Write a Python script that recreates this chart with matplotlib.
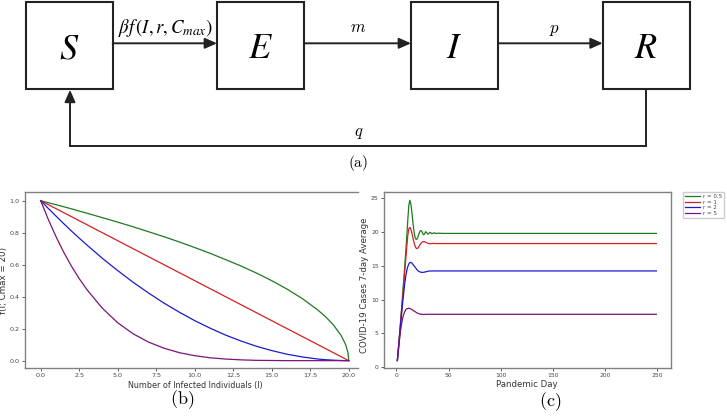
import matplotlib
matplotlib.use("Agg")
import matplotlib.pyplot as plt
from matplotlib.patches import Rectangle

# ---- panel (b): f(I; Cmax = 20) ----
infected = [0, 0.5, 1, 1.5, 2, 2.5, 3, 4, 5, 6, 7, 8, 9, 10, 11, 12, 13, 14,
            15, 16, 17, 18, 18.5, 19, 19.5, 19.8, 19.95, 20]
f_r05 = [1.0, 0.987, 0.975, 0.962, 0.949, 0.935, 0.922, 0.894, 0.866, 0.837,
         0.806, 0.775, 0.742, 0.707, 0.671, 0.632, 0.592, 0.548, 0.5, 0.447,
         0.387, 0.316, 0.274, 0.224, 0.158, 0.1, 0.05, 0.0]
f_r1 = [1.0, 0.975, 0.95, 0.925, 0.9, 0.875, 0.85, 0.8, 0.75, 0.7, 0.65, 0.6,
        0.55, 0.5, 0.45, 0.4, 0.35, 0.3, 0.25, 0.2, 0.15, 0.1, 0.075, 0.05,
        0.025, 0.01, 0.0025, 0.0]
f_r2 = [1.0, 0.951, 0.903, 0.856, 0.81, 0.766, 0.723, 0.64, 0.563, 0.49,
        0.423, 0.36, 0.303, 0.25, 0.203, 0.16, 0.123, 0.09, 0.063, 0.04,
        0.023, 0.01, 0.006, 0.003, 0.001, 0.0, 0.0, 0.0]
f_r5 = [1.0, 0.881, 0.774, 0.677, 0.59, 0.513, 0.444, 0.328, 0.237, 0.168,
        0.116, 0.078, 0.05, 0.031, 0.018, 0.01, 0.005, 0.002, 0.001, 0.0,
        0.0, 0.0, 0.0, 0.0, 0.0, 0.0, 0.0, 0.0]

# ---- panel (c): 7-day average cases ----
days = [1, 2, 3, 4, 5, 6, 7, 8, 9, 10, 11, 12, 13, 14, 15, 16, 17, 18, 19, 20,
        21, 22, 23, 24, 25, 26, 27, 28, 29, 30, 31, 32, 33, 34, 35, 36, 37, 38,
        39, 40, 45, 50, 75, 100, 150, 200, 249]
cases_r05 = [1.0, 2.8, 4.7, 6.6, 8.6, 10.6, 12.7, 14.8, 17.0, 19.3,
             21.8, 24.0, 24.7, 24.1, 22.8, 21.3, 20.0, 19.2, 18.9, 19.0,
             19.4, 19.9, 20.2, 20.2, 19.9, 19.6, 19.7, 20.05, 19.95, 19.7,
             19.75, 19.95, 19.9, 19.75, 19.8, 19.9, 19.85, 19.78, 19.82, 19.83,
             19.8, 19.8, 19.8, 19.8, 19.8, 19.8, 19.8]
cases_r1 = [1.0, 2.8, 4.6, 6.4, 8.3, 10.2, 12.1, 14.0, 15.9, 17.8,
            19.5, 20.5, 20.7, 20.4, 19.8, 19.1, 18.4, 17.9, 17.6, 17.55,
            17.7, 17.95, 18.2, 18.4, 18.55, 18.6, 18.58, 18.5, 18.42, 18.35,
            18.3, 18.28, 18.28, 18.3, 18.32, 18.32, 18.3, 18.3, 18.3, 18.3,
            18.3, 18.3, 18.3, 18.3, 18.3, 18.3, 18.3]
cases_r2 = [1.0, 2.7, 4.4, 6.1, 7.8, 9.4, 10.9, 12.3, 13.4, 14.3,
            14.9, 15.3, 15.5, 15.5, 15.4, 15.2, 15.0, 14.8, 14.6, 14.4,
            14.25, 14.15, 14.08, 14.05, 14.04, 14.05, 14.08, 14.12, 14.16, 14.2,
            14.22, 14.24, 14.25, 14.25, 14.25, 14.25, 14.25, 14.25, 14.25, 14.25,
            14.25, 14.25, 14.25, 14.25, 14.25, 14.25, 14.25]
cases_r5 = [1.0, 2.5, 4.0, 5.3, 6.4, 7.2, 7.8, 8.2, 8.5, 8.65,
            8.7, 8.72, 8.7, 8.62, 8.52, 8.42, 8.32, 8.22, 8.12, 8.03,
            7.96, 7.9, 7.86, 7.84, 7.83, 7.82, 7.82, 7.83, 7.84, 7.84,
            7.84, 7.84, 7.84, 7.84, 7.84, 7.84, 7.84, 7.84, 7.84, 7.84,
            7.84, 7.84, 7.84, 7.84, 7.84, 7.84, 7.84]

r_labels = ["r = 0.5", "r = 1", "r = 2", "r = 5"]
colors = ["#1f7a1f", "#d42020", "#1a1ad0", "#7a147a"]

W, H = 727, 417
fig = plt.figure(figsize=(W / 100, H / 100), dpi=100)

# ---- (a) compartment diagram, drawn in pixel coordinates ----
ax0 = fig.add_axes([0, 0, 1, 1])
ax0.set_xlim(0, W)
ax0.set_ylim(H, 0)
ax0.axis("off")

box_names = ["S", "E", "I", "R"]
box_left = [25.7, 217, 411, 602.7]
box_w, box_top, box_h = 87, 2.3, 87
ink = "#222222"
for name, x0 in zip(box_names, box_left):
    ax0.add_patch(Rectangle((x0, box_top), box_w, box_h, fill=False,
                            lw=1.5, ec=ink))
    ax0.text(x0 + box_w / 2, 48, "$%s$" % name, fontsize=26, ha="center",
             va="center", math_fontfamily="stix", color="black")

arrow_y = 43.3
head = dict(arrowstyle="-|>,head_length=0.9,head_width=0.4", lw=1.4,
            color=ink, shrinkA=0, shrinkB=0, mutation_scale=8)
for i in range(3):
    ax0.annotate("", xy=(box_left[i + 1], arrow_y),
                 xytext=(box_left[i] + box_w, arrow_y), arrowprops=head)

ax0.text(166, 28, r"$\beta f\,(I,r,C_{max})$", fontsize=13.5, ha="center",
         va="center", math_fontfamily="stix")
ax0.text(358, 27, "$m$", fontsize=12, ha="center", va="center",
         math_fontfamily="cm")
ax0.text(554, 29, "$p$", fontsize=12, ha="center", va="center",
         math_fontfamily="cm")
ax0.text(359, 132, "$q$", fontsize=12, ha="center", va="center",
         math_fontfamily="cm")

# feedback R -> S
ax0.plot([645.7, 645.7, 70], [box_top + box_h, 145.7, 145.7], color=ink,
         lw=1.4, solid_joinstyle="miter")
ax0.annotate("", xy=(70, box_top + box_h + 0.5), xytext=(70, 145.7),
             arrowprops=head)

ax0.text(358, 163, r"$\mathrm{(a)}$", fontsize=11, ha="center", va="center",
         math_fontfamily="cm")
ax0.text(182, 400, r"$\mathrm{(b)}$", fontsize=13, ha="center", va="center",
         math_fontfamily="cm")
ax0.text(550, 402, r"$\mathrm{(c)}$", fontsize=13, ha="center", va="center",
         math_fontfamily="cm")

spine_col = "#808080"
tick_col = "#444444"


def style(ax, fs):
    for s in ax.spines.values():
        s.set_color(spine_col)
        s.set_linewidth(1.0)
    ax.tick_params(labelsize=fs, colors=tick_col, length=2.5, width=0.6,
                   pad=1.5)


# ---- (b) ----
axb = fig.add_axes([25 / W, 1 - 367.7 / H, 333 / W, 175.4 / H])
for vals, c in zip([f_r05, f_r1, f_r2, f_r5], colors):
    axb.plot(infected, vals, color=c, lw=0.9)
axb.set_xlim(-1.02, 20.6)
axb.set_ylim(-0.044, 1.0525)
axb.spines["right"].set_visible(False)
style(axb, 4.6)
axb.set_xticks([0, 2.5, 5, 7.5, 10, 12.5, 15, 17.5, 20])
axb.set_xlabel("Number of Infected Individuals (I)", fontsize=5.8, color="#333333")
axb.set_ylabel("f(I; Cmax = 20)", fontsize=6.3, color="#333333")
axb.xaxis.set_label_coords(195 / W, 1 - 381 / H, transform=fig.transFigure)
axb.yaxis.set_label_coords(8.5 / W, 1 - 280 / H, transform=fig.transFigure)

# ---- (c) ----
axc = fig.add_axes([384.3 / W, 1 - 367.7 / H, 286.7 / W, 176 / H])
for vals, c, lab in zip([cases_r05, cases_r1, cases_r2, cases_r5], colors,
                        r_labels):
    axc.plot(days, vals, color=c, lw=0.9, label=lab)
axc.set_xlim(-11.5, 263)
axc.set_ylim(-0.06, 25.97)
style(axc, 4.3)
axc.set_xlabel("Pandemic Day", fontsize=6.2, color="#333333")
axc.set_ylabel("COVID-19 Cases 7-day Average", fontsize=6.2, color="#333333")
axc.xaxis.set_label_coords(527 / W, 1 - 380 / H, transform=fig.transFigure)
axc.yaxis.set_label_coords(369 / W, 1 - 285 / H, transform=fig.transFigure)

leg = axc.legend(loc="upper left", bbox_to_anchor=(683 / W, 1 - 191.5 / H),
                 bbox_transform=fig.transFigure, fontsize=4, handlelength=2.6,
                 labelspacing=0.15, borderpad=0.4, handletextpad=0.6,
                 fancybox=False, framealpha=1, edgecolor="#cccccc",
                 borderaxespad=0)
for t in leg.get_texts():
    t.set_color("#444444")

fig.savefig("out.png", dpi=100)
